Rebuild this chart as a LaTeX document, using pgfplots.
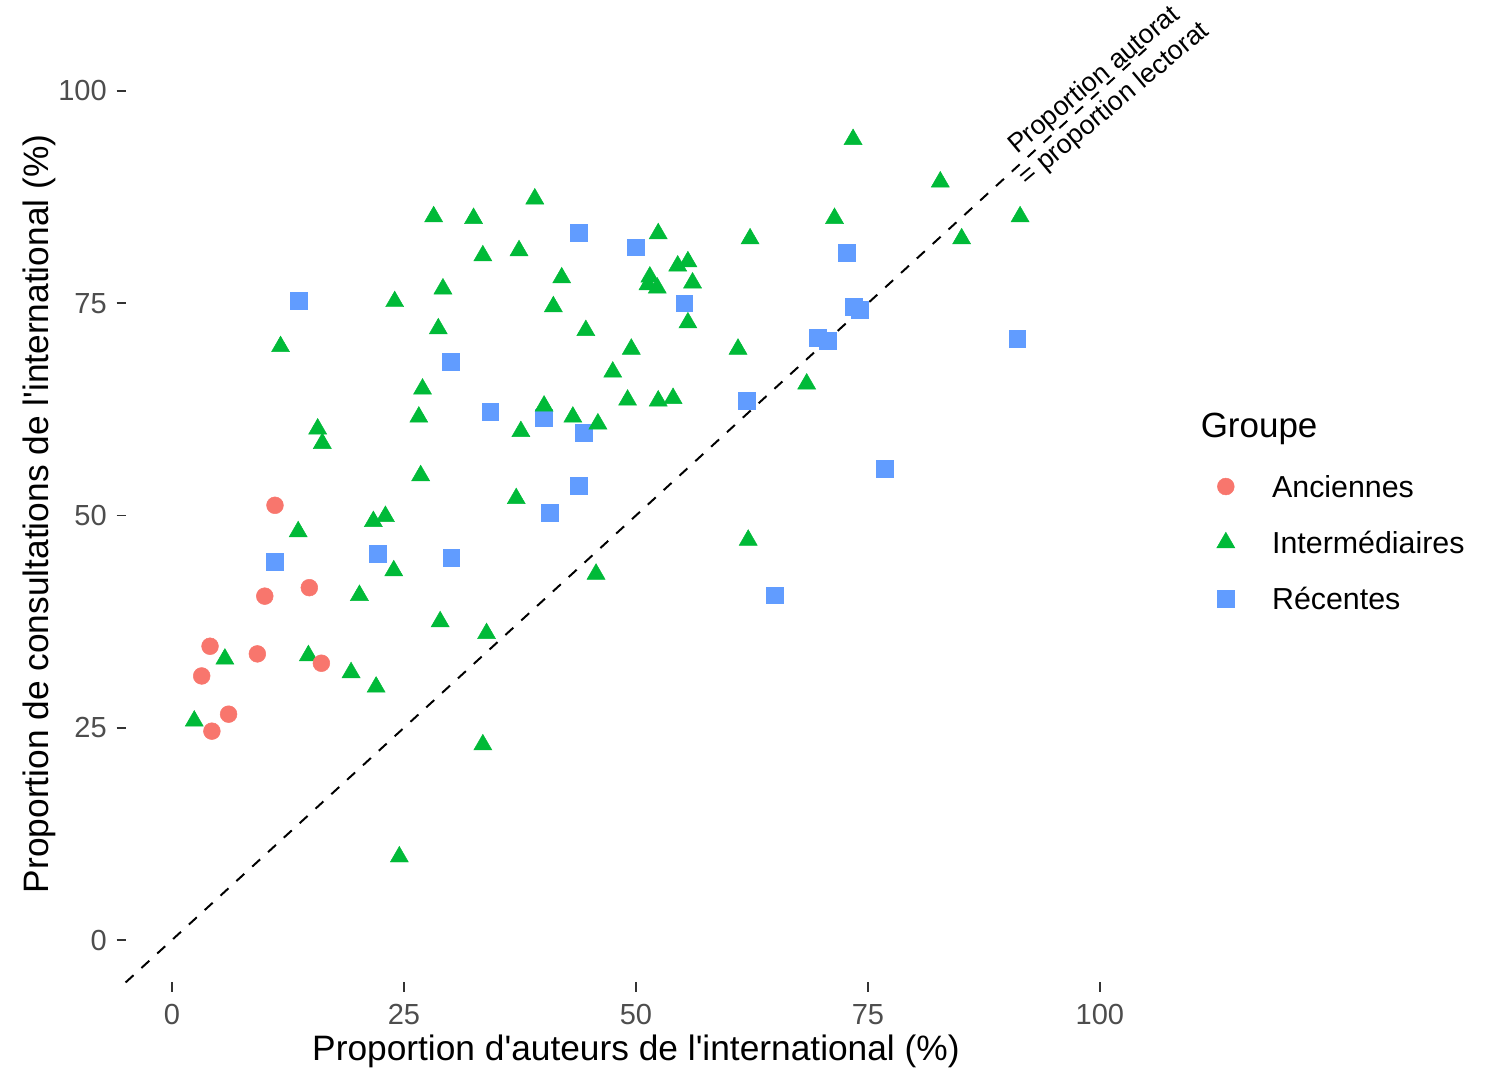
\documentclass[border=0pt]{standalone}
\usepackage{fontspec}
\setmainfont{Liberation Sans}
\usepackage{pgfplots}
\pgfplotsset{compat=1.18}
\usepackage{pgfplotstable}
\definecolor{cA}{HTML}{F8766D}
\definecolor{cI}{HTML}{00BA38}
\definecolor{cR}{HTML}{619CFF}
\definecolor{tickcol}{HTML}{333333}
\definecolor{labcol}{HTML}{4D4D4D}

\pgfplotstableread{
x y
11.1 51.2
10.0 40.5
14.8 41.5
4.1 34.6
9.2 33.7
3.2 31.1
16.1 32.6
6.1 26.6
4.3 24.6
}\anciennes

\pgfplotstableread{
x y
73.4 94.3
82.8 89.3
39.1 87.3
28.2 85.2
32.5 85.0
71.4 85.0
91.4 85.2
52.4 83.2
62.3 82.6
85.1 82.6
33.5 80.6
37.4 81.2
54.5 79.4
55.6 79.9
42.0 78.0
51.5 78.1
51.3 77.2
52.3 76.8
56.1 77.4
29.2 76.7
24.0 75.2
41.1 74.6
55.6 72.7
28.7 72.0
44.6 71.8
11.7 69.9
61.0 69.6
49.5 69.6
47.5 66.9
68.4 65.5
27.0 64.9
40.1 62.9
49.1 63.6
52.4 63.5
54.0 63.8
26.6 61.6
43.2 61.6
45.9 60.8
15.7 60.2
37.6 59.9
16.2 58.5
26.8 54.7
13.6 48.1
37.1 52.0
23.0 49.9
21.7 49.3
62.1 47.1
23.9 43.5
45.7 43.1
20.2 40.6
28.9 37.5
33.9 36.1
5.7 33.1
14.7 33.5
19.3 31.5
22.0 29.8
2.4 25.8
33.5 23.0
24.5 9.8
}\intermediaires

\pgfplotstableread{
x y
43.8 83.3
50.0 81.6
72.7 80.9
13.7 75.3
55.2 75.0
73.5 74.6
74.1 74.2
69.6 70.9
70.7 70.6
91.1 70.8
30.0 68.1
34.3 62.2
40.1 61.5
44.4 59.7
61.9 63.5
76.8 55.5
43.8 53.5
40.7 50.3
11.1 44.6
22.2 45.5
30.1 45.0
65.0 40.6
}\recentes

\pgfplotsset{mypt/.style={only marks, legend image code/.code={\draw[mark repeat=1,##1] plot coordinates {(0pt,0pt)};}}}

\begin{document}
\begin{tikzpicture}
\path[use as bounding box] (-38.06pt,-27.14pt) rectangle (413.76pt,297.71pt);
\begin{axis}[
  at={(0pt,0pt)}, anchor=south west,
  scale only axis, width=309.3pt, height=283.0pt,
  xmin=-5, xmax=105, ymin=-5, ymax=105,
  axis lines*=left, axis line style={draw=none},
  tick align=outside, major tick length=2.75pt,
  tick style={tickcol, line width=0.55pt},
  xtick={0,25,50,75,100}, ytick={0,25,50,75,100},
  /pgf/number format/assume math mode=true,
  tick label style={font=\fontsize{8.8}{10}\selectfont, text=labcol, inner sep=0pt},
  xticklabel style={yshift=-3.6pt},
  yticklabel style={xshift=-2.75pt},
  clip=false,
  legend style={at={(1.0691,0.5425)}, anchor=north west, draw=none, fill=none,
    inner sep=0pt, outer sep=0pt, row sep=10.5pt,
    font=\fontsize{9.2}{10.5}\selectfont,
    nodes={inner sep=0pt, text height=6.5pt, text depth=0pt},
    /tikz/every odd column/.append style={column sep=11.3pt}},
  legend cell align=left,
  reverse legend,
]
\addplot[mypt, mark=square*, mark size=2.55pt, mark options={fill=cR, draw=cR, line width=0.15pt}] table[x=x,y=y] {\recentes};
\addlegendentry{Récentes}
\addplot[mypt, mark=triangle*, mark size=3.15pt, mark options={fill=cI, draw=cI, line width=0.15pt}] table[x=x,y=y] {\intermediaires};
\addlegendentry{Intermédiaires}
\addplot[mypt, mark=*, mark size=2.55pt, mark options={fill=cA, draw=cA, line width=0.15pt}] table[x=x,y=y] {\anciennes};
\addlegendentry{Anciennes}
\addplot[forget plot, black, line width=0.6pt, dash pattern=on 3.25pt off 3.25pt] coordinates {(-5,-5) (105,105)};
\node[rotate=40, align=center, font=\fontsize{8.1}{9.4}\selectfont, inner sep=0pt] at (axis cs:100.5,99.8) {Proportion autorat\\= proportion lectorat};
\end{axis}
\node[anchor=base, font=\fontsize{10.7}{13}\selectfont, inner sep=0pt] at (154.65pt,-23.5pt) {Proportion d\textquotesingle auteurs de l\textquotesingle international (\%)};
\node[anchor=base, rotate=90, font=\fontsize{10.7}{13}\selectfont, inner sep=0pt] at (-23.5pt,142pt) {Proportion de consultations de l\textquotesingle international (\%)};
\node[anchor=base west, font=\fontsize{10.6}{13}\selectfont, inner sep=0pt] at (325.6pt,165.0pt) {Groupe};
\end{tikzpicture}
\end{document}
